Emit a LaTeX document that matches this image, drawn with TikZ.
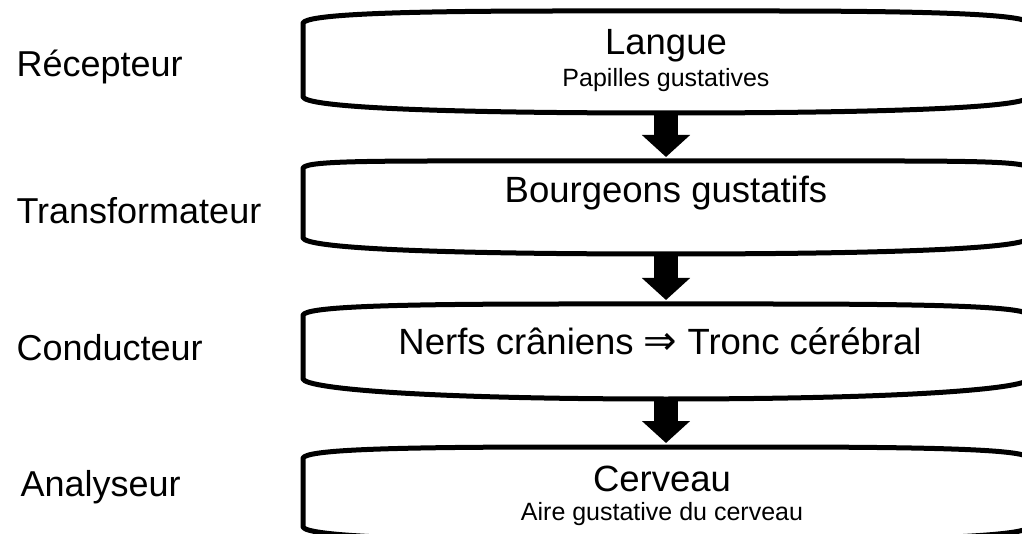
\documentclass[tikz,border=0pt]{standalone}
\usepackage{fontspec}
\setsansfont{Liberation Sans}
\newfontfamily\arrowfont{DejaVu Sans}
\usetikzlibrary{arrows.meta}

\begin{document}
\begin{tikzpicture}
    [font=\sffamily, x=1pt, y=-1pt,
     outline/.style={line width=5pt, line join=round},
     big/.style={font=\sffamily\fontsize{36.5}{40}\selectfont, anchor=base},
     small/.style={font=\sffamily\fontsize{25}{28}\selectfont, anchor=base},
     side/.style={font=\sffamily\fontsize{36}{40}\selectfont, anchor=base west},
     flow/.style={line width=24pt, -{Triangle[width=47pt, length=22pt]}, shorten >=4pt},
    ]
    \useasboundingbox (0, 0) rectangle (1022, 534);
    \clip (0, 0) rectangle (1022, 534);
    % Boxes
    \foreach \bx / \yt / \h / \dt / \db in
             {langue/23/74/12/16, bourgeons/168/70/7/16,
              nerfs/315/64/11/20, cerveau/458/69/11/14} {
        \begin{scope}[shift={(303, \yt)}]
            \draw[outline]
                (0, 0) .. controls (4, -8) and (80, -\dt) .. (260, -\dt) --
                (466, -\dt) .. controls (646, -\dt) and (722, -8) .. (726, 0) --
                (726, \h) .. controls (722, \h+10) and (600, \h+\db) .. (363, \h+\db)
                .. controls (126, \h+\db) and (4, \h+10) .. (0, \h) -- cycle;
            \coordinate (\bx-n) at (363, -\dt);
            \coordinate (\bx-s) at (363, \h+\db);
        \end{scope}
    }

    % Box texts
    \node[big] (langue-t) at (666, 55) {Langue};
    \node[small] (langue-st) at (666, 87) {Papilles gustatives};
    \node[big] (bourgeons-t) at (666, 203) {Bourgeons gustatifs};
    \node[big] (nerfs-t) at (660, 354)
        {Nerfs crâniens {\arrowfont\fontsize{40}{40}\selectfont ⇒} Tronc cérébral};
    \node[big] (cerveau-t) at (662, 491) {Cerveau};
    \node[small] (cerveau-st) at (662, 520) {Aire gustative du cerveau};

    % Stages
    \node[side] (recepteur) at (13, 77) {Récepteur};
    \node[side] (transformateur) at (13, 224) {Transformateur};
    \node[side] (conducteur) at (13, 360) {Conducteur};
    \node[side] (analyseur) at (17, 496) {Analyseur};

    % Arrows
    \foreach \a / \b in {langue/bourgeons, bourgeons/nerfs, nerfs/cerveau}
        \draw[flow] (\a-s) -- (\b-n);
\end{tikzpicture}
\end{document}
